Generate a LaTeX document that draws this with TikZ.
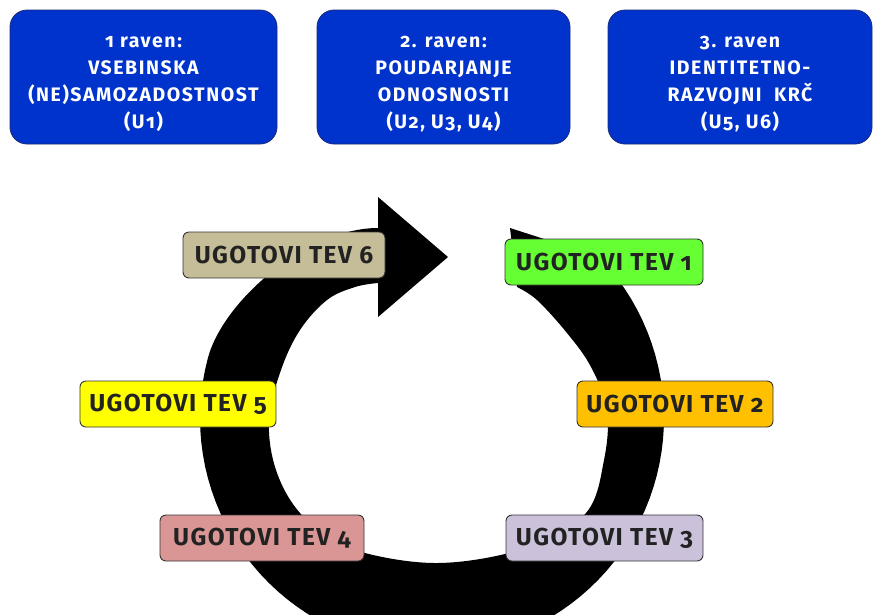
\documentclass[tikz,border=0pt]{standalone}
\usepackage{fontspec}
\setmainfont{Fira Sans}[Numbers=OldStyle]
\newfontfamily\spacedfont{Fira Sans}[Numbers=OldStyle, LetterSpace=8]
\newfontfamily\tevfont{Fira Sans}[Numbers=OldStyle, LetterSpace=6]
\definecolor{lvlblue}{HTML}{0033CC}
\definecolor{lvledge}{HTML}{1A2A7A}
\definecolor{tevA}{HTML}{66FF33}
\definecolor{tevB}{HTML}{FFC000}
\definecolor{tevC}{HTML}{CCC1DA}
\definecolor{tevD}{HTML}{D99694}
\definecolor{tevE}{HTML}{FFFF00}
\definecolor{tevF}{HTML}{C4BD97}
\definecolor{tevtext}{HTML}{222222}
\tikzset{
  levelbox/.style={draw=lvledge, line width=0.8pt, fill=lvlblue, rounded corners=17pt,
    inner sep=0pt, outer sep=0pt, minimum height=134pt},
  leveltext/.style={text=white, align=center, inner sep=0pt,
    font=\spacedfont\bfseries\fontsize{19.5}{27}\selectfont},
  tevbox/.style={draw=black!80, line width=0.9pt, rounded corners=6pt,
    text=tevtext, inner sep=0pt, outer sep=0pt, minimum height=46pt,
    font=\tevfont\bfseries\fontsize{24.5}{26}\selectfont}
}
\begin{document}
\begin{tikzpicture}[x=1pt,y=-1pt]
\useasboundingbox (0,0) rectangle (874,614);
% circular arrow
\begin{scope}
\clip (0,0) rectangle (874,614);
\fill[black] (510,228) -- (603,258)
  -- plot[domain=-43:195, samples=80] ({432+232*cos(\x)}, {418+232*sin(\x)})
  .. controls (223.5,300) and (308,228) .. (378,228)
  -- (378,197) -- (448,257) -- (378,317) -- (378,283)
  -- plot[smooth, tension=0.6] coordinates {(378,283) (355,287) (327,300) (300,330) (281,370) (269,420) (276,470) (300,513) (342,546) (435,563) (530,547) (586,513) (604,460) (607,410) (591,367) (567,333) (537,300) (517,287)}
  -- cycle;
\end{scope}
% level boxes
\node[levelbox, minimum width=267pt] (l1) at (143.5,77) {};
\node[levelbox, minimum width=253pt] (l2) at (443.5,77) {};
\node[levelbox, minimum width=264pt] (l3) at (740,77) {};
\node[leveltext] (l1t) at (143.5,84) {1 raven:\\VSEBINSKA\\(NE)SAMOZADOSTNOST\\(U1)};
\node[leveltext] (l2t) at (443.5,84) {2. raven:\\POUDARJANJE\\ODNOSNOSTI\\(U2, U3, U4)};
\node[leveltext] (l3t) at (740,84) {3. raven\\IDENTITETNO-\\RAZVOJNI\ \ KRČ\\(U5, U6)};
% tev boxes
\node[tevbox, fill=tevF, minimum width=202pt] (t6) at (284,255) {UGOTOVI TEV 6};
\node[tevbox, fill=tevA, minimum width=198pt] (t1) at (604,262) {UGOTOVI TEV 1};
\node[tevbox, fill=tevE, minimum width=196pt] (t5) at (178,404) {UGOTOVI TEV 5};
\node[tevbox, fill=tevB, minimum width=196pt] (t2) at (675,404) {UGOTOVI TEV 2};
\node[tevbox, fill=tevD, minimum width=204pt] (t4) at (262,538) {UGOTOVI TEV 4};
\node[tevbox, fill=tevC, minimum width=197pt] (t3) at (604.5,538) {UGOTOVI TEV 3};
\end{tikzpicture}
\end{document}
